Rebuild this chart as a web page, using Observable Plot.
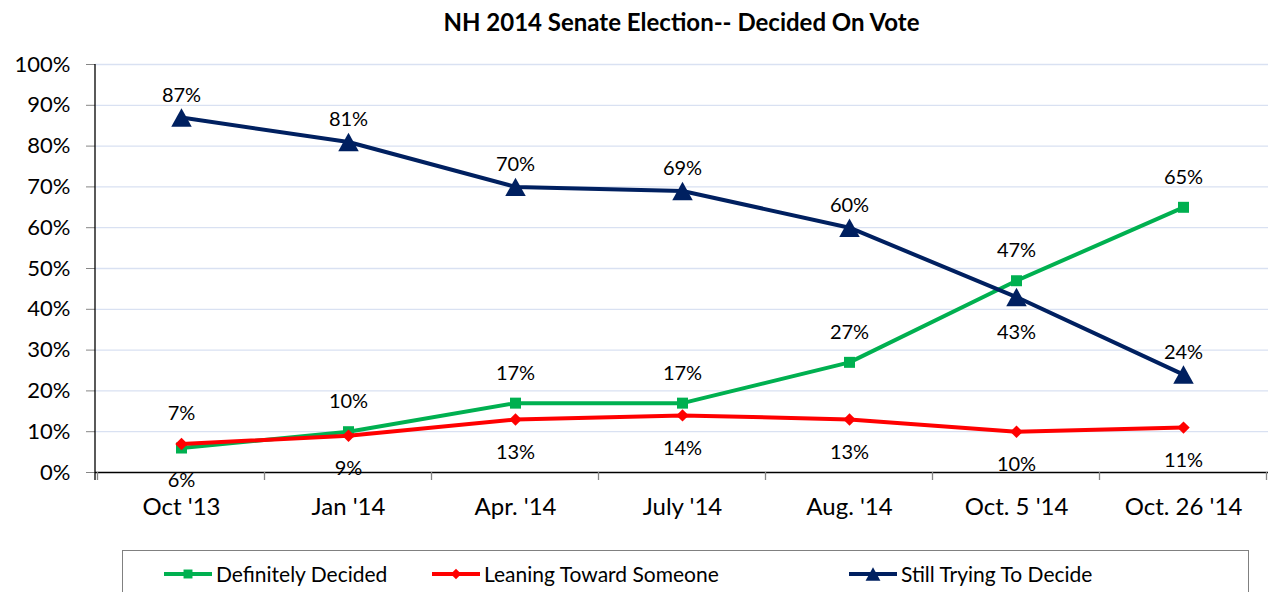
<!DOCTYPE html>
<html><head><meta charset="utf-8">
<script src="https://cdn.jsdelivr.net/npm/d3@7"></script>
<script src="https://cdn.jsdelivr.net/npm/@observablehq/plot@0.6"></script>
<style>
body{margin:0;background:#fff;font-family:Lato,"Open Sans",sans-serif;width:1268px;height:592px;overflow:hidden;position:relative;}
#title{height:44px;line-height:44px;padding-left:95px;text-align:center;font-weight:bold;font-size:24px;color:#000;}
#legend{position:absolute;left:122px;top:550px;width:1127px;height:60px;border:1px solid #808080;box-sizing:border-box;}
.item{position:absolute;top:10px;display:flex;align-items:center;font-size:21px;color:#000;}
.item svg{margin-right:4px;}
</style></head><body>
<div id="title">NH 2014 Senate Election-- Decided On Vote</div>
<div id="chart"></div>
<div id="legend"></div>
<script>
const categories = ["Oct '13", "Jan '14", "Apr. '14", "July '14", "Aug. '14", "Oct. 5 '14", "Oct. 26 '14"];
const decided = [6, 10, 17, 17, 27, 47, 65];
const leaning = [7, 9, 13, 14, 13, 10, 11];
const still = [87, 81, 70, 69, 60, 43, 24];
const yTicks = [0, 10, 20, 30, 40, 50, 60, 70, 80, 90, 100];
const seriesNames = ["Definitely Decided", "Leaning Toward Someone", "Still Trying To Decide"];
const colors = ["#00B050", "#FF0000", "#002060"];

const rows = [];
categories.forEach((c, i) => {
  rows.push({cat: c, value: decided[i], series: 0, below: decided[i] < leaning[i]});
  rows.push({cat: c, value: leaning[i], series: 1, below: leaning[i] <= decided[i]});
  rows.push({cat: c, value: still[i], series: 2, below: still[i] < decided[i] && decided[i] - still[i] < 10});
});
const ser = k => rows.filter(d => d.series === k);

// triangle centred on its bounding box (like the spreadsheet marker)
const boxTriangle = {
  draw(context, size) {
    const w = Math.sqrt(size) * 1.05, h = w * 0.9;
    context.moveTo(0, -h / 2);
    context.lineTo(w / 2, h / 2);
    context.lineTo(-w / 2, h / 2);
    context.closePath();
  }
};

function frame(index, scales, values, dims) {
  const g = d3.create("svg:g");
  const xs = categories.map(c => scales.x(c));
  const step = xs[1] - xs[0];
  const y0 = dims.height - dims.marginBottom;
  const bounds = xs.map(x => x - step / 2).concat([xs[xs.length - 1] + step / 2]);
  g.selectAll("line.t").data(bounds).join("line")
    .attr("x1", d => d).attr("x2", d => d).attr("y1", y0).attr("y2", y0 + 8)
    .attr("stroke", "#868686").attr("stroke-width", 1.3);
  g.append("line").attr("x1", dims.marginLeft).attr("x2", dims.marginLeft)
    .attr("y1", dims.marginTop).attr("y2", y0 + 8).attr("stroke", "#000").attr("stroke-width", 1.3);
  return g.node();
}

const labelMarks = [];
[0, 1, 2].forEach(k => {
  const up = k === 2 ? -22 : -30;
  const down = k === 2 ? 36 : 33;
  labelMarks.push(Plot.text(ser(k).filter(d => !d.below), {x: "cat", y: "value", text: d => d.value + "%", dy: up, fontSize: 20, fill: "#000"}));
  labelMarks.push(Plot.text(ser(k).filter(d => d.below), {x: "cat", y: "value", text: d => d.value + "%", dy: down, fontSize: 20, fill: "#000"}));
});

const chart = Plot.plot({
  width: 1268, height: 500,
  marginLeft: 95, marginRight: 0, marginTop: 20, marginBottom: 72,
  style: {fontFamily: "Lato, 'Open Sans', sans-serif", background: "#fff", overflow: "visible"},
  x: {type: "point", domain: categories, padding: 0.5},
  y: {domain: [0, 100]},
  marks: [
    Plot.gridY(yTicks.filter(t => t > 0), {stroke: "#D9E1F2", strokeOpacity: 1, strokeWidth: 1.3}),
    Plot.axisY(yTicks, {tickSize: 9, tickPadding: 16, tickFormat: d => d + "%", fontSize: 22, stroke: "#868686", fill: "#000", label: null}),
    Plot.axisX({tickSize: 0, tickPadding: 25, fontSize: 24, fill: "#000", label: null}),
    Plot.ruleY([0], {stroke: "#000", strokeWidth: 1.3}),
    frame,
    Plot.line(ser(0), {x: "cat", y: "value", stroke: colors[0], strokeWidth: 4}),
    Plot.dot(ser(0), {x: "cat", y: "value", symbol: "square", r: 6.2, fill: colors[0]}),
    Plot.line(ser(1), {x: "cat", y: "value", stroke: colors[1], strokeWidth: 4}),
    Plot.dot(ser(1), {x: "cat", y: "value", symbol: "diamond2", r: 5.6, fill: colors[1]}),
    Plot.line(ser(2), {x: "cat", y: "value", stroke: colors[2], strokeWidth: 4}),
    Plot.dot(ser(2), {x: "cat", y: "value", symbol: boxTriangle, r: 11, fill: colors[2]}),
    ...labelMarks
  ]
});
document.getElementById("chart").appendChild(chart);

// legend
const legend = d3.select("#legend");
const lefts = [41, 309, 726];
const symbols = [d3.symbolSquare, d3.symbolDiamond2, boxTriangle];
const sizes = [80, 70, 200];
seriesNames.forEach((name, k) => {
  const item = legend.append("div").attr("class", "item").style("left", lefts[k] + "px");
  const s = item.append("svg").attr("width", 48).attr("height", 24);
  s.append("line").attr("x1", 0).attr("x2", 48).attr("y1", 12).attr("y2", 12).attr("stroke", colors[k]).attr("stroke-width", 4);
  s.append("path").attr("transform", "translate(24,12)").attr("d", d3.symbol(symbols[k], sizes[k])()).attr("fill", colors[k]);
  item.append("span").text(name);
});
</script>
</body></html>
